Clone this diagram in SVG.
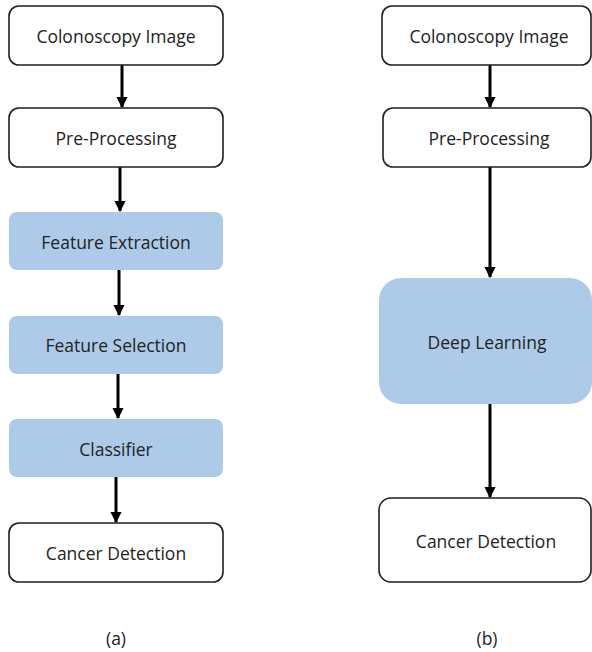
<svg xmlns="http://www.w3.org/2000/svg" width="592" height="652" viewBox="0 0 592 652">
<style>
.w{fill:#fff;stroke:#1e1e1e;stroke-width:1.6}
.b{fill:#adcbe8;stroke:none}
.t{font-family:"Open Sans","Liberation Sans",sans-serif;font-size:17.5px;fill:#222;text-anchor:middle;dominant-baseline:central}
.c{stroke:#000;stroke-width:3;fill:none;marker-end:url(#ah)}
</style>
<defs>
<marker id="ah" viewBox="0 0 10 10" refX="9" refY="5" markerWidth="3.8" markerHeight="3.8" orient="auto" markerUnits="strokeWidth">
<path d="M0,0 L10,5 L0,10 z" fill="#000"/>
</marker>
</defs>
<rect width="592" height="652" fill="#fff"/>
<g id="connectors">
<line class="c" x1="122" y1="65" x2="122" y2="107"/>
<line class="c" x1="120" y1="167" x2="120" y2="211"/>
<line class="c" x1="119" y1="270" x2="119" y2="315"/>
<line class="c" x1="118" y1="374" x2="118" y2="418"/>
<line class="c" x1="116" y1="477" x2="116" y2="522"/>
<line class="c" x1="490" y1="65" x2="490" y2="107"/>
<line class="c" x1="490" y1="167" x2="490" y2="277"/>
<line class="c" x1="490" y1="404" x2="490" y2="497"/>
</g>
<g id="a1"><rect class="w" x="9" y="6" width="214" height="59" rx="10"/><text class="t" x="116" y="36">Colonoscopy Image</text></g>
<g id="a2"><rect class="w" x="9" y="108" width="214" height="59" rx="10"/><text class="t" x="116" y="138">Pre-Processing</text></g>
<g id="a3"><rect class="b" x="9" y="212" width="214" height="58" rx="8"/><text class="t" x="116" y="242">Feature Extraction</text></g>
<g id="a4"><rect class="b" x="9" y="316" width="214" height="58" rx="8"/><text class="t" x="116" y="345">Feature Selection</text></g>
<g id="a5"><rect class="b" x="9" y="419" width="214" height="58" rx="8"/><text class="t" x="116" y="449">Classifier</text></g>
<g id="a6"><rect class="w" x="9" y="523" width="214" height="59" rx="10"/><text class="t" x="116" y="553">Cancer Detection</text></g>
<g id="b1"><rect class="w" x="382" y="6" width="209" height="59" rx="10"/><text class="t" x="489" y="36">Colonoscopy Image</text></g>
<g id="b2"><rect class="w" x="383" y="108" width="208" height="59" rx="10"/><text class="t" x="489" y="138">Pre-Processing</text></g>
<g id="b3"><rect class="b" x="379" y="278" width="213" height="126" rx="22"/><text class="t" x="487" y="342">Deep Learning</text></g>
<g id="b4"><rect class="w" x="379" y="498" width="212" height="84" rx="12"/><text class="t" x="486" y="541">Cancer Detection</text></g>
<text class="t" x="116" y="638">(a)</text>
<text class="t" x="487" y="638">(b)</text>
</svg>
